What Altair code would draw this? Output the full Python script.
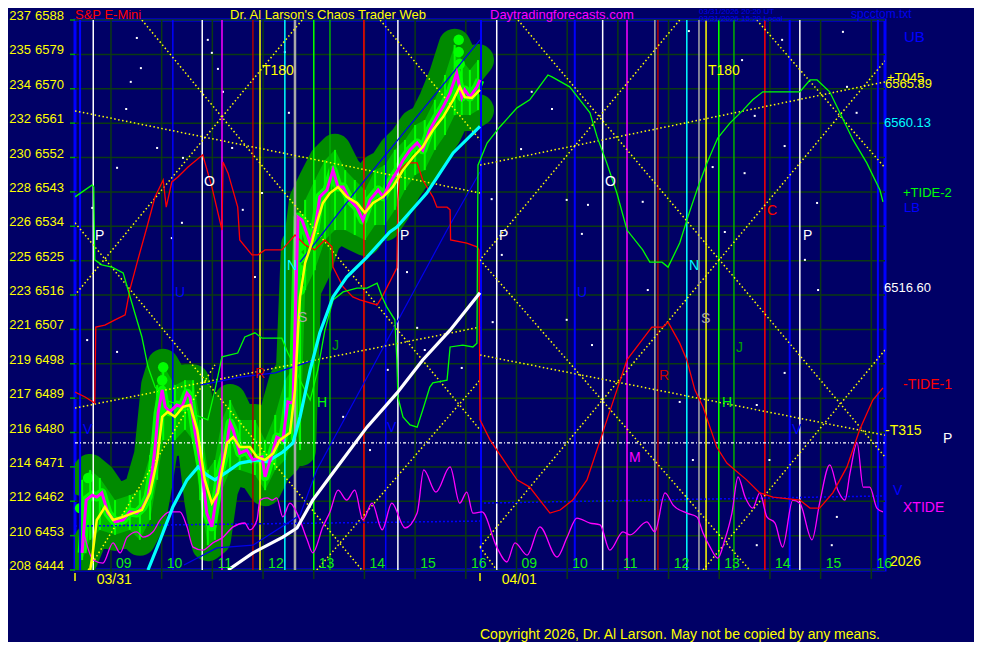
import altair as alt
import pandas as pd

# ---------------- values ----------------
left_scale = [237, 235, 234, 232, 230, 228, 226, 225, 223, 221, 219, 217, 216, 214, 212, 210, 208]
price_ticks = [6588, 6579, 6570, 6561, 6552, 6543, 6534, 6525, 6516, 6507, 6498, 6489, 6480, 6471, 6462, 6453, 6444]
hour_grid = [9, 10, 11, 12, 13, 14, 15, 16, 17, 18, 19, 20, 21, 22, 23, 24]
hour_labels = ["09", "10", "11", "12", "13", "14", "15", "16", "09", "10", "11", "12", "13", "14", "15", "16"]
date_labels = ["03/31", "04/01"]
date_pos = [8.72, 16.71]
session_marks = [8.29, 16.28]

close_series = [
    (8.43, 6448.5), (8.51, 6462.3), (8.63, 6463.6), (8.72, 6463.1), (8.82, 6464.2), (8.94, 6458.9),
    (9.08, 6456.6), (9.24, 6457.1), (9.37, 6459.2), (9.51, 6458.9), (9.63, 6460.5), (9.73, 6463.1),
    (9.81, 6469.4), (9.87, 6476.2), (9.93, 6485.1), (10.01, 6491.1), (10.07, 6486.7), (10.16, 6485.4),
    (10.30, 6487.2), (10.40, 6486.7), (10.50, 6490.3), (10.56, 6489.3), (10.66, 6479.9), (10.79, 6470.2),
    (10.89, 6458.9), (10.99, 6455.3), (11.05, 6460.5), (11.15, 6469.4), (11.25, 6474.6), (11.35, 6482.5),
    (11.41, 6480.7), (11.54, 6474.6), (11.68, 6475.4), (11.80, 6472.8), (11.98, 6473.6), (12.04, 6468.4),
    (12.18, 6474.6), (12.27, 6478.8), (12.39, 6478.0), (12.49, 6488.0), (12.59, 6487.7), (12.69, 6536.4),
    (12.77, 6535.6), (12.93, 6529.6), (13.02, 6533.0), (13.12, 6541.7), (13.26, 6543.5), (13.38, 6548.7),
    (13.48, 6544.3), (13.58, 6544.3), (13.71, 6540.9), (13.85, 6539.0), (13.97, 6535.6), (14.11, 6540.9),
    (14.27, 6543.5), (14.37, 6541.7), (14.50, 6545.3), (14.66, 6548.7), (14.76, 6551.3), (14.90, 6554.0),
    (15.04, 6555.8), (15.15, 6554.0), (15.29, 6559.2), (15.43, 6562.6), (15.55, 6565.2), (15.69, 6568.9),
    (15.82, 6574.1), (15.92, 6567.8), (15.98, 6569.7), (16.08, 6567.8), (16.22, 6570.5), (16.28, 6572.3),
]
ma_series = [
    (8.59, 6444.0), (8.63, 6447.4), (8.72, 6457.1), (8.88, 6460.5), (9.04, 6457.1), (9.24, 6457.9),
    (9.43, 6458.9), (9.61, 6459.7), (9.77, 6464.2), (9.91, 6472.8), (10.01, 6484.1), (10.12, 6485.4),
    (10.26, 6484.1), (10.42, 6486.7), (10.56, 6487.2), (10.70, 6480.7), (10.85, 6467.6), (10.99, 6461.5),
    (11.11, 6464.2), (11.29, 6477.3), (11.41, 6478.8), (11.54, 6476.2), (11.74, 6476.2), (11.88, 6473.6),
    (12.04, 6472.8), (12.20, 6474.6), (12.33, 6478.0), (12.53, 6479.9), (12.63, 6491.1), (12.69, 6506.8),
    (12.73, 6515.5), (12.83, 6524.4), (12.96, 6529.6), (13.06, 6534.9), (13.18, 6540.1), (13.32, 6542.7),
    (13.48, 6544.3), (13.65, 6541.7), (13.85, 6540.1), (14.01, 6537.5), (14.17, 6540.1), (14.37, 6541.7),
    (14.56, 6544.3), (14.76, 6548.7), (14.96, 6552.1), (15.15, 6554.8), (15.35, 6559.2), (15.55, 6562.6),
    (15.75, 6567.1), (15.88, 6570.5), (15.98, 6567.8), (16.12, 6567.6), (16.28, 6569.7),
]
# bar high / low envelope (time, high, low)
bar_range = [
    (8.43, 6467.6, 6446.6), (8.59, 6470.2, 6451.9), (8.78, 6468.1, 6454.5), (9.08, 6462.3, 6453.2),
    (9.37, 6463.6, 6454.5), (9.57, 6464.9, 6451.9), (9.77, 6474.1, 6457.1), (9.91, 6492.4, 6467.6),
    (10.03, 6497.7, 6478.0), (10.26, 6492.4, 6478.0), (10.46, 6493.7, 6480.7), (10.62, 6493.7, 6478.0),
    (10.76, 6483.3, 6462.3), (10.91, 6470.2, 6450.5), (11.05, 6472.8, 6451.9), (11.19, 6483.3, 6464.9),
    (11.35, 6488.5, 6470.2), (11.54, 6483.3, 6470.2), (11.84, 6483.3, 6468.9), (12.04, 6478.0, 6464.9),
    (12.24, 6484.6, 6470.2), (12.43, 6493.7, 6472.8), (12.57, 6496.4, 6478.0), (12.67, 6529.1, 6480.7),
    (12.73, 6530.4, 6475.4), (12.83, 6540.9, 6517.3), (13.02, 6546.1, 6522.5), (13.22, 6551.3, 6530.4),
    (13.42, 6554.0, 6533.0), (13.62, 6548.7, 6533.0), (13.81, 6546.1, 6531.7), (14.01, 6543.5, 6530.4),
    (14.21, 6548.7, 6534.3), (14.40, 6550.0, 6534.3), (14.60, 6554.0, 6538.3), (14.80, 6556.6, 6543.5),
    (15.00, 6560.5, 6547.4), (15.19, 6561.8, 6548.7), (15.39, 6567.1, 6554.0), (15.59, 6573.6, 6557.9),
    (15.78, 6581.5, 6563.1), (15.92, 6577.5, 6563.1), (16.08, 6574.9, 6563.1), (16.24, 6577.5, 6564.4),
]
blobs = [
    (15.86, 6582.8), (15.86, 6579.6), (15.88, 6576.5), (12.73, 6528.8), (12.73, 6525.7), (12.75, 6522.5),
    (12.73, 6517.3), (10.03, 6497.1), (10.01, 6493.7), (8.55, 6468.1), (8.39, 6460.2),
]
cyan_series = [
    (9.73, 6444.0), (9.97, 6451.9), (10.22, 6460.5), (10.50, 6467.6), (10.72, 6471.0), (10.89, 6468.9),
    (11.05, 6467.6), (11.29, 6469.7), (11.54, 6472.0), (11.88, 6472.8), (12.08, 6472.3), (12.39, 6474.9),
    (12.59, 6477.3), (12.73, 6484.1), (12.93, 6496.4), (13.12, 6506.1), (13.38, 6515.5), (13.65, 6520.7),
    (14.05, 6525.9), (14.50, 6532.5), (14.64, 6533.8), (15.23, 6542.7), (15.75, 6553.2), (16.28, 6560.13),
]
white_series = [
    (11.31, 6444.0), (11.80, 6448.5), (12.39, 6452.6), (12.67, 6455.0), (12.98, 6462.3), (13.32, 6468.4),
    (14.05, 6481.4), (14.64, 6490.3), (15.15, 6499.0), (15.69, 6506.8), (16.28, 6516.60),
]
tide1_series = [
    (8.29, 6490.6), (8.49, 6489.3), (8.68, 6487.7), (8.70, 6507.6), (8.88, 6508.1), (9.08, 6509.5),
    (9.28, 6510.8), (9.37, 6517.3), (9.53, 6525.2), (9.71, 6533.8), (9.87, 6541.7), (10.03, 6546.1),
    (10.09, 6539.0), (10.20, 6545.6), (10.32, 6546.9), (10.52, 6549.5), (10.81, 6552.7), (10.99, 6544.3),
    (11.19, 6533.0), (11.21, 6550.8), (11.31, 6547.9), (11.50, 6539.0), (11.54, 6530.4), (11.78, 6526.5),
    (11.90, 6526.5), (12.04, 6527.8), (12.37, 6527.8), (12.49, 6529.6), (12.63, 6531.7), (12.83, 6529.1),
    (13.02, 6527.8), (13.22, 6530.4), (13.36, 6528.6), (13.38, 6523.3), (13.58, 6518.1), (13.77, 6515.5),
    (13.91, 6514.7), (14.25, 6513.4), (14.35, 6515.5), (14.64, 6523.1), (14.66, 6540.9), (14.70, 6548.7),
    (14.84, 6550.6), (15.04, 6550.6), (15.15, 6546.1), (15.35, 6541.7), (15.43, 6539.0), (15.63, 6539.0),
    (15.69, 6538.3), (15.70, 6530.4), (16.02, 6529.6), (16.22, 6528.6), (16.26, 6527.8), (16.28, 6483.3),
    (16.48, 6478.0), (17.01, 6467.6), (17.26, 6465.7), (17.46, 6462.3), (17.66, 6458.9), (17.86, 6459.7),
    (18.11, 6462.3), (18.39, 6467.6), (18.98, 6491.1), (19.18, 6499.0), (19.43, 6503.4), (19.67, 6507.6),
    (19.89, 6507.6), (19.99, 6508.9), (20.22, 6503.4), (20.36, 6499.0), (20.52, 6491.1), (20.68, 6486.7),
    (20.95, 6476.2), (21.15, 6472.0), (21.31, 6470.2), (21.54, 6467.6), (21.80, 6464.2), (22.06, 6463.1),
    (22.59, 6462.3), (22.79, 6460.2), (22.98, 6460.2), (23.24, 6464.2), (23.52, 6471.0), (23.77, 6480.7),
    (24.03, 6488.5), (24.23, 6491.7),
]
tide2_series = [
    (8.29, 6541.7), (8.63, 6544.8), (8.66, 6544.3), (8.68, 6525.2), (8.82, 6523.9), (9.02, 6523.3),
    (9.24, 6521.8), (9.32, 6518.1), (9.47, 6511.3), (9.61, 6505.0), (9.73, 6497.2), (9.87, 6491.9),
    (10.07, 6488.5), (10.36, 6487.2), (10.66, 6484.6), (10.91, 6483.3), (11.05, 6491.1), (11.19, 6499.8),
    (11.35, 6500.3), (11.50, 6500.8), (11.64, 6505.0), (11.84, 6506.1), (11.98, 6504.7), (12.37, 6504.7),
    (12.49, 6500.8), (12.63, 6497.2), (12.73, 6493.7), (12.93, 6488.5), (13.08, 6496.4), (13.22, 6506.8),
    (13.38, 6514.7), (13.58, 6516.8), (13.85, 6517.8), (14.05, 6517.8), (14.25, 6519.1), (14.35, 6515.5),
    (14.44, 6512.9), (14.60, 6509.5), (14.64, 6499.0), (14.66, 6489.3), (14.76, 6484.1), (14.90, 6482.0),
    (15.04, 6481.4), (15.15, 6485.9), (15.29, 6491.9), (15.35, 6493.0), (15.63, 6493.7), (15.69, 6502.4),
    (15.94, 6502.9), (16.14, 6502.4), (16.22, 6503.4), (16.24, 6550.0), (16.42, 6555.8), (16.67, 6560.0),
    (17.01, 6565.0), (17.26, 6567.1), (17.62, 6573.6), (17.70, 6573.1), (18.05, 6570.5), (18.25, 6567.1),
    (18.45, 6563.7), (18.59, 6557.4), (18.78, 6550.6), (18.98, 6542.7), (19.18, 6533.0), (19.49, 6527.8),
    (19.63, 6524.6), (19.87, 6524.6), (19.99, 6523.3), (20.22, 6529.6), (20.38, 6536.4), (20.56, 6543.5),
    (20.76, 6550.6), (20.97, 6557.1), (21.21, 6561.0), (21.47, 6564.4), (21.66, 6567.1), (21.86, 6569.2),
    (22.59, 6569.2), (22.79, 6572.3), (22.93, 6572.3), (23.18, 6569.2), (23.38, 6563.7), (23.64, 6556.6),
    (23.91, 6550.6), (24.17, 6543.5), (24.23, 6540.4),
]
xtide_series = [
    (8.45, 6454.5), (8.65, 6446.6), (8.84, 6445.8), (9.04, 6451.1), (9.18, 6448.5), (9.32, 6452.6),
    (9.51, 6454.0), (9.63, 6452.6), (9.83, 6454.0), (9.97, 6457.1), (10.16, 6459.2), (10.36, 6459.2),
    (10.50, 6455.3), (10.62, 6450.0), (10.81, 6449.2), (11.01, 6451.1), (11.21, 6452.6), (11.41, 6455.3),
    (11.64, 6456.3), (11.74, 6454.5), (11.88, 6457.1), (11.94, 6462.3), (12.08, 6462.9), (12.18, 6462.3),
    (12.27, 6462.9), (12.39, 6457.9), (12.53, 6461.5), (12.67, 6458.9), (12.87, 6451.9), (12.98, 6448.5),
    (13.18, 6455.3), (13.32, 6459.2), (13.48, 6464.9), (13.65, 6462.3), (13.81, 6464.9), (13.97, 6457.1),
    (14.15, 6461.5), (14.35, 6454.5), (14.54, 6461.5), (14.80, 6455.0), (15.04, 6458.9), (15.17, 6470.2),
    (15.41, 6464.4), (15.69, 6471.0), (15.88, 6461.5), (16.02, 6464.4), (16.14, 6458.9), (16.32, 6459.2),
    (16.61, 6450.0), (16.81, 6446.1), (16.97, 6451.1), (17.21, 6447.9), (17.46, 6455.3), (17.80, 6447.4),
    (18.00, 6452.6), (18.19, 6457.6), (18.45, 6456.3), (18.65, 6455.8), (18.84, 6449.2), (19.10, 6454.0),
    (19.24, 6453.2), (19.57, 6456.6), (19.73, 6454.0), (19.93, 6464.2), (20.09, 6461.0), (20.36, 6458.9),
    (20.56, 6457.9), (20.68, 6453.7), (20.82, 6450.0), (20.97, 6447.1), (21.11, 6451.9), (21.25, 6458.9),
    (21.37, 6468.4), (21.51, 6463.1), (21.66, 6460.2), (21.80, 6464.2), (21.94, 6457.9), (22.10, 6456.3),
    (22.25, 6450.0), (22.45, 6462.3), (22.59, 6461.5), (22.83, 6451.9), (22.98, 6461.5), (23.18, 6471.5),
    (23.34, 6464.9), (23.48, 6462.3), (23.58, 6469.4), (23.72, 6477.3), (23.84, 6465.7), (23.97, 6465.7),
    (24.11, 6460.2), (24.23, 6459.2),
]
blue_path_1 = [(10.44, 6445.3), (11.09, 6449.8), (11.80, 6450.5), (12.73, 6458.4), (13.06, 6470.2),
               (15.63, 6533.0), (16.28, 6548.2)]
blue_path_2 = [(10.76, 6492.4), (11.54, 6494.5), (12.24, 6495.6), (13.02, 6499.0)]
blue_path_3 = [(12.73, 6524.6), (13.85, 6543.5), (16.28, 6582.8)]
# dotted angle / time lines: (t0, p0, t1, p1)
dotted_lines = [
    (8.29, 6564.2, 16.28, 6542.7), (16.28, 6500.3, 24.27, 6479.3), (8.29, 6486.4, 16.28, 6507.6),
    (16.28, 6550.0, 24.27, 6571.8), (9.61, 6588.0, 16.28, 6480.7), (12.77, 6588.0, 8.29, 6516.0),
    (8.29, 6534.9, 13.95, 6444.0), (17.03, 6588.0, 24.27, 6473.6), (20.22, 6588.0, 16.28, 6525.2),
    (16.28, 6525.2, 21.60, 6444.0), (16.28, 6450.0, 24.27, 6577.3), (20.68, 6444.0, 24.27, 6501.6),
    (14.31, 6588.0, 16.28, 6556.6), (13.06, 6444.0, 16.28, 6493.7), (8.55, 6444.0, 11.05, 6497.7),
    (21.74, 6588.0, 24.27, 6549.3), (16.28, 6450.0, 16.61, 6444.0),
]
white_level = [(8.29, 6477.3), (24.27, 6477.3)]
blue_level_1 = [(8.29, 6455.5), (16.28, 6456.8)]
blue_level_2 = [(16.28, 6461.5), (24.27, 6463.4)]
vline_times = [8.39, 8.65, 10.22, 10.80, 11.19, 11.80, 11.94, 12.43, 12.63, 13.00, 13.32, 13.99, 14.42,
               14.66, 16.30, 16.61, 18.15, 18.70, 19.18, 19.73, 19.79, 20.36, 20.60, 20.74, 20.99, 21.29,
               21.90, 22.39, 22.59, 24.13]
stars = [
    (9.51, 6583.3), (9.59, 6575.4), (9.39, 6571.8), (9.30, 6564.7), (10.91, 6582.8), (10.99, 6579.4),
    (11.11, 6575.2), (11.21, 6569.2), (12.43, 6579.6), (12.51, 6563.7), (9.12, 6549.3), (8.63, 6538.8),
    (8.53, 6504.2), (9.12, 6501.1), (10.42, 6551.9), (9.91, 6554.5), (10.20, 6530.9), (10.40, 6534.9),
    (11.39, 6554.5), (11.60, 6538.3), (11.98, 6542.7), (11.84, 6520.7), (14.84, 6522.0), (15.04, 6507.4),
    (14.46, 6496.4), (13.58, 6484.1), (15.19, 6501.6), (15.92, 6496.9), (14.11, 6475.4), (17.30, 6569.2),
    (17.70, 6564.7), (17.09, 6554.2), (16.51, 6541.1), (17.99, 6540.9), (18.41, 6539.6), (19.49, 6540.4),
    (18.29, 6532.0), (16.71, 6526.5), (16.53, 6508.9), (17.99, 6509.5), (18.49, 6502.9), (19.59, 6517.3),
    (20.87, 6549.5), (21.11, 6532.5), (21.50, 6547.9), (21.70, 6562.9), (22.29, 6555.0), (22.93, 6540.1),
    (23.52, 6570.5), (23.71, 6563.7), (22.95, 6517.3), (22.69, 6525.2), (22.29, 6495.6), (20.22, 6488.0),
    (21.74, 6487.2), (21.99, 6472.8), (21.74, 6450.5), (23.22, 6450.5), (23.32, 6457.9), (20.48, 6472.8),
    (20.40, 6585.1), (21.45, 6577.5), (22.24, 6582.8), (23.44, 6584.9),
]

# ---------------- styles ----------------
BG = "#000066"
GRID = "#0b3a12"
FONT = "Liberation Sans"
vline_colors = ["#0000ff", "#ffffff", "#0000ff", "#ffffff", "#ff00ff", "#b00000", "#ffff00", "#00ffff",
                "#a8a8a8", "#00ff00", "#00b000", "#ff0000", "#0000ff", "#ffffff", "#0000ff", "#ffffff",
                "#0000ff", "#ffffff", "#ff00ff", "#a8a8a8", "#b00000", "#00ffff", "#a8a8a8", "#ffff00",
                "#00ff00", "#00b000", "#ff0000", "#0000ff", "#ffffff", "#0000ff"]
vline_widths = [2, 1.5, 1.5, 1.5, 1.5, 1.5, 1.5, 1.5, 2.5, 1.5, 1.5, 1.5, 1.5, 1.5, 2, 1.5,
                2, 1.5, 1.5, 1.5, 1.5, 1.5, 1.5, 1.5, 1.5, 1.5, 1.5, 2, 1.5, 2]

XS = alt.Scale(domain=[8.29, 24.27], nice=False, zero=False)
YS = alt.Scale(domain=[6444, 6588], nice=False, zero=False)


def X(f="t"):
    return alt.X(f + ":Q", scale=XS, axis=None)


def Y(f="p"):
    return alt.Y(f + ":Q", scale=YS, axis=None)


def path(pts, color, width, dash=None, **kw):
    df = pd.DataFrame(pts, columns=["t", "p"])
    df["i"] = range(len(df))
    props = dict(color=color, strokeWidth=width, clip=True, **kw)
    if dash:
        props["strokeDash"] = dash
    return alt.Chart(df).mark_line(**props).encode(x=X(), y=Y(), order="i:Q")


ONE = pd.DataFrame({"k": [0]})


def label(text, x, y, color, size=14, align="left"):
    return alt.Chart(ONE).mark_text(text=text, color=color, fontSize=size, align=align,
                                    baseline="alphabetic", font=FONT).encode(
        x=alt.value(x), y=alt.value(y))


layers = []

# grid
layers.append(alt.Chart(pd.DataFrame({"t": hour_grid})).mark_rule(color=GRID, strokeWidth=1.5)
              .encode(x=X()))
layers.append(alt.Chart(pd.DataFrame({"p": price_ticks})).mark_rule(color=GRID, strokeWidth=1.5)
              .encode(y=Y()))
# ticks outside the frame
layers.append(alt.Chart(pd.DataFrame({"t": hour_grid})).mark_rule(color=GRID, strokeWidth=1.5)
              .encode(x=X(), y=alt.value(550), y2=alt.value(559)))
layers.append(alt.Chart(pd.DataFrame({"t": session_marks})).mark_rule(color="#ffff00", strokeWidth=1.5)
              .encode(x=X(), y=alt.value(553), y2=alt.value(561)))
layers.append(alt.Chart(pd.DataFrame({"p": price_ticks})).mark_rule(color="#00a000", strokeWidth=1.5)
              .encode(y=Y(), x=alt.value(-5), x2=alt.value(0)))

# stars
layers.append(alt.Chart(pd.DataFrame(stars, columns=["t", "p"]))
              .mark_square(size=4, color="#ffffff", opacity=1).encode(x=X(), y=Y()))

# price glow
bar_df = pd.DataFrame(bar_range, columns=["t", "hi", "lo"])
GLOW = "#008a00"
layers.append(alt.Chart(bar_df).mark_area(color=GLOW, opacity=1, clip=True)
              .encode(x=X(), y=Y("hi"), y2=alt.Y2("lo")))
layers.append(path([(r[0], r[1]) for r in bar_range], GLOW, 32, strokeCap="round", strokeJoin="round"))
layers.append(path([(r[0], r[2]) for r in bar_range], GLOW, 32, strokeCap="round", strokeJoin="round"))
layers.append(alt.Chart(bar_df).mark_area(color="#00ff00", opacity=0.4, clip=True)
              .encode(x=X(), y=Y("hi"), y2=alt.Y2("lo")))
layers.append(alt.Chart(bar_df).mark_rule(color="#00ff00", strokeWidth=2)
              .encode(x=X(), y=Y("hi"), y2=alt.Y2("lo")))
layers.append(alt.Chart(pd.DataFrame(blobs, columns=["t", "p"]))
              .mark_circle(size=110, color="#00ff00", opacity=1).encode(x=X(), y=Y()))
layers.append(path(close_series, "#00ff00", 9, strokeJoin="round"))

# vertical time lines
vdf = pd.DataFrame({"t": vline_times, "c": vline_colors, "w": vline_widths})
layers.append(alt.Chart(vdf).mark_rule().encode(
    x=X(), color=alt.Color("c:N", scale=None), strokeWidth=alt.StrokeWidth("w:Q", scale=None)))

# dotted levels and angle lines
ddf = pd.DataFrame(dotted_lines, columns=["t", "p", "t2", "p2"])
layers.append(alt.Chart(ddf).mark_rule(color="#ffff00", strokeWidth=1.5, strokeDash=[1.5, 2.5], clip=True)
              .encode(x=X(), y=Y(), x2=alt.X2("t2"), y2=alt.Y2("p2")))
layers.append(path(white_level, "#ffffff", 1.2, dash=[3, 2, 1, 2]))
layers.append(path(blue_level_1, "#0000ff", 1.5, dash=[2, 2]))
layers.append(path(blue_level_2, "#0000ff", 1.5, dash=[2, 2]))

# thin forecast lines
layers.append(path(blue_path_1, "#0000ee", 1.2))
layers.append(path(blue_path_2, "#0000ee", 1.2))
layers.append(path(blue_path_3, "#0000ee", 1.2))
layers.append(path(xtide_series, "#ff00ff", 1.3, interpolate="monotone"))
layers.append(path(tide1_series, "#ff0000", 1.3))
layers.append(path(tide2_series, "#00ff00", 1.3))

# averages and price
layers.append(path(white_series, "#ffffff", 3.2))
layers.append(path(cyan_series, "#00ffff", 3.2))
layers.append(path(close_series, "#ff00ff", 3))
layers.append(path(ma_series, "#ffff00", 2.5))

# left axis labels
ldf = pd.DataFrame({"p": price_ticks, "a": [str(v) for v in left_scale], "b": [str(v) for v in price_ticks]})
layers.append(alt.Chart(ldf).mark_text(align="right", baseline="alphabetic", color="#ffff00",
                                       fontSize=13, font=FONT).encode(x=alt.value(-44), y=Y(), text="a:N"))
layers.append(alt.Chart(ldf).mark_text(align="right", baseline="alphabetic", color="#ffff00",
                                       fontSize=13, font=FONT).encode(x=alt.value(-11), y=Y(), text="b:N"))

# hour and date labels
hdf = pd.DataFrame({"t": [h + 0.1 for h in hour_grid], "s": hour_labels})
layers.append(alt.Chart(hdf).mark_text(align="left", baseline="alphabetic", color="#11ee11",
                                       fontSize=14, font=FONT).encode(x=X(), y=alt.value(548), text="s:N"))
ddf2 = pd.DataFrame({"t": date_pos, "s": date_labels})
layers.append(alt.Chart(ddf2).mark_text(align="left", baseline="alphabetic", color="#ffff00",
                                        fontSize=14, font=FONT).encode(x=X(), y=alt.value(564), text="s:N"))

# titles and annotations (pixel placement relative to the plot frame)
annotations = [
    ("S&P E-Mini", 0, -1, "#ff0000", 13),
    ("Dr. Al Larson's Chaos Trader Web", 155, -1, "#ffff00", 13),
    ("Daytradingforecasts.com", 415, -1, "#ff00ff", 13),
    ("03/31/2026 20:20 UT", 624, -6, "#0000ee", 8),
    ("03/31/2026 15:20 Local", 624, 0.5, "#0000ee", 8),
    ("spcctom.txt", 776, -2, "#0000ee", 12),
    ("UB", 829, 22, "#0000ff", 15),
    ("+T045", 812, 62, "#ffff00", 13),
    ("6565.89", 810, 68, "#ffff00", 13),
    ("6560.13", 809, 107, "#00ffff", 13),
    ("+TIDE-2", 828, 177, "#00ff00", 13),
    ("LB", 829, 192, "#0000ff", 13),
    ("6516.60", 809, 272, "#ffffff", 13),
    ("-TIDE-1", 828, 369, "#ff0000", 14),
    ("-T315", 810, 415, "#ffff00", 14),
    ("P", 868, 423, "#ffffff", 14),
    ("V", 818, 475, "#0000ff", 14),
    ("XTIDE", 828, 492, "#ff00ff", 14),
    ("2026", 815, 546, "#ffff00", 14),
    ("Copyright 2026, Dr. Al Larson. May not be copied by any means.", 405, 619, "#ffff00", 14),
    ("T180", 187, 55, "#ffff00", 14), ("T180", 633, 55, "#ffff00", 14),
    ("P", 20, 220, "#ffffff", 14), ("P", 325, 220, "#ffffff", 14),
    ("P", 424, 220, "#ffffff", 14), ("P", 728, 220, "#ffffff", 14),
    ("O", 129, 166, "#ffffff", 14), ("O", 530, 166, "#ffffff", 14),
    ("U", 100, 277, "#0000ff", 14), ("U", 502, 277, "#0000ff", 14),
    ("N", 212, 250, "#00ffff", 14), ("N", 614, 250, "#00ffff", 14),
    ("S", 223, 302, "#aaaaaa", 14), ("S", 626, 303, "#aaaaaa", 14),
    ("J", 257, 330, "#00a000", 14), ("J", 661, 332, "#00a000", 14),
    ("H", 242, 387, "#00ff00", 14), ("H", 647, 387, "#00ff00", 14),
    ("R", 180, 358, "#cc0000", 14), ("R", 584, 360, "#cc0000", 14),
    ("C", 692, 195, "#ff0000", 14), ("M", 554, 442, "#ff00ff", 14),
    ("V", 8, 414, "#0000ff", 14), ("V", 312, 412, "#0000ff", 14), ("V", 717, 414, "#0000ff", 14),
]
for txt, ax, ay, col, sz in annotations:
    layers.append(label(txt, ax, ay, col, sz))

chart = alt.layer(*layers).properties(
    width=810, height=550,
    padding={"left": 67, "top": 12, "right": 89, "bottom": 72},
    autosize=alt.AutoSizeParams(type="none"),
    background=BG,
).configure_view(stroke="#0000ff", strokeWidth=3)

chart.save("out.html", embed_options={"renderer": "svg", "actions": False})
